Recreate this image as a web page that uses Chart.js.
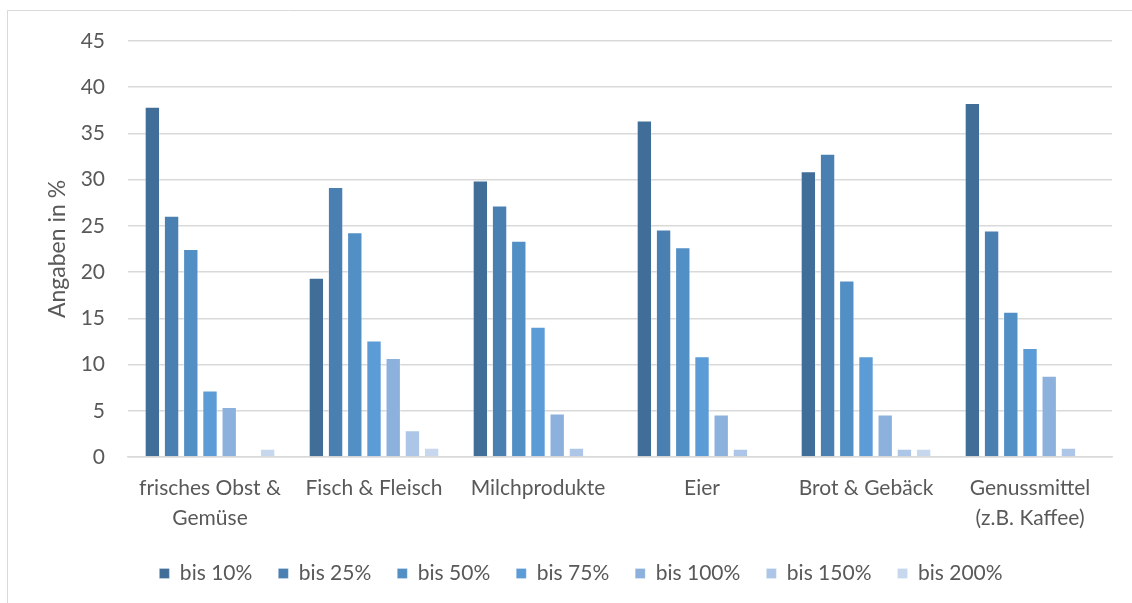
<!DOCTYPE html>
<html lang="de">
<head>
<meta charset="utf-8">
<title>Preissteigerung nach Produktgruppen</title>
<script src="https://cdn.jsdelivr.net/npm/chart.js@4.4.1/dist/chart.umd.min.js"></script>
<style>
  html, body { margin: 0; padding: 0; background: #ffffff; }
  #wrap { width: 1132px; height: 603px; position: relative; }
</style>
</head>
<body>
<div id="wrap"><canvas id="chart" width="1132" height="603"></canvas></div>
<script>
// Produktgruppen (Kategorien der x-Achse)
const categories = [
  ["frisches Obst &", "Gemüse"],
  "Fisch & Fleisch",
  "Milchprodukte",
  "Eier",
  "Brot & Gebäck",
  ["Genussmittel", "(z.B. Kaffee)"]
];

// Reihen: Anteil der Angaben in % je Preisanstieg
const seriesNames = ["bis 10%", "bis 25%", "bis 50%", "bis 75%", "bis 100%", "bis 150%", "bis 200%"];
const bis10  = [37.9, 19.4, 29.9, 36.4, 30.9, 38.3];
const bis25  = [26.1, 29.2, 27.2, 24.6, 32.8, 24.5];
const bis50  = [22.5, 24.3, 23.4, 22.7, 19.1, 15.7];
const bis75  = [7.2, 12.6, 14.1, 10.9, 10.9, 11.8];
const bis100 = [5.4, 10.7, 4.7, 4.6, 4.6, 8.8];
const bis150 = [0, 2.9, 1.0, 0.9, 0.9, 1.0];
const bis200 = [0.9, 1.0, 0, 0, 0.9, 0];

const yTicks = [0, 5, 10, 15, 20, 25, 30, 35, 40, 45];

const seriesValues = [bis10, bis25, bis50, bis75, bis100, bis150, bis200];
const seriesColors = ["#416E99", "#4A7FB1", "#528FC5", "#5B9BD6", "#8DB1DD", "#ADC6E7", "#C6D7EE"];

const FONT = "Lato, 'Open Sans', sans-serif";
const TEXT = "#595959";
const GRID = "#D9D9D9";

// Dünner Rahmen oben und links um die Grafik
const framePlugin = {
  id: "frame",
  beforeDraw(chart) {
    const ctx = chart.ctx;
    ctx.save();
    ctx.fillStyle = "#ffffff";
    ctx.fillRect(0, 0, chart.width, chart.height);
    ctx.strokeStyle = GRID;
    ctx.lineWidth = 1;
    ctx.beginPath();
    ctx.moveTo(7.5, chart.height);
    ctx.lineTo(7.5, 10.5);
    ctx.lineTo(chart.width, 10.5);
    ctx.stroke();
    ctx.restore();
  }
};

new Chart(document.getElementById("chart"), {
  type: "bar",
  data: {
    labels: categories,
    datasets: seriesNames.map((name, i) => ({
      label: name,
      data: seriesValues[i],
      backgroundColor: seriesColors[i],
      borderColor: "rgba(255,255,255,0.35)",
      borderWidth: { top: 1, left: 1, right: 1, bottom: 0 },
      borderSkipped: "bottom",
      barPercentage: 0.8,
      categoryPercentage: 0.82
    }))
  },
  options: {
    responsive: false,
    animation: false,
    devicePixelRatio: 1,
    layout: { padding: { left: 50, right: 20, top: 41, bottom: 9 } },
    plugins: {
      legend: {
        position: "bottom",
        labels: {
          boxWidth: 10,
          boxHeight: 10,
          padding: 26,
          color: TEXT,
          font: { family: FONT, size: 21 }
        }
      },
      tooltip: { enabled: false }
    },
    scales: {
      x: {
        grid: { display: false, drawTicks: false },
        border: { display: true, color: GRID, width: 1.5 },
        ticks: {
          color: TEXT,
          padding: 16,
          maxRotation: 0,
          autoSkip: false,
          font: { family: FONT, size: 21, lineHeight: 1.43 }
        },
        afterFit(scale) { scale.height = 80; }
      },
      y: {
        min: 0,
        max: 45,
        afterBuildTicks(scale) { scale.ticks = yTicks.map(v => ({ value: v })); },
        grid: { color: GRID, lineWidth: 1.5, drawTicks: false },
        border: { display: false },
        ticks: {
          color: TEXT,
          padding: 23,
          font: { family: FONT, size: 21 }
        },
        title: {
          display: true,
          text: "Angaben in %",
          color: TEXT,
          padding: { top: 0, bottom: 0 },
          font: { family: FONT, size: 23, lineHeight: 0.7 }
        },
        afterFit(scale) { scale.width = 78; }
      }
    }
  },
  plugins: [framePlugin]
});
</script>
</body>
</html>
